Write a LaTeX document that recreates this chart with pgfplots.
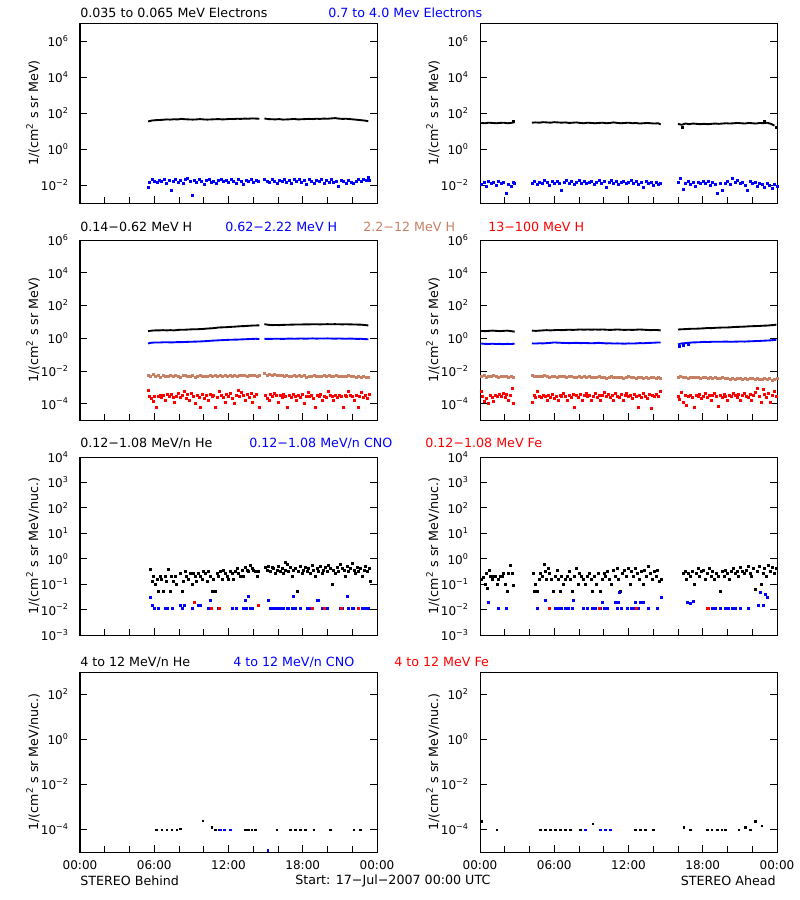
\documentclass[border=0pt]{standalone}
\usepackage{fontspec}
\setmainfont{DejaVu Sans}
\usepackage{pgfplots}
\pgfplotsset{compat=1.18}
\definecolor{hbrown}{RGB}{200,128,100}
\newcommand{\Ex}[1]{10\textsuperscript{#1}}
\pgfplotsset{
  stpanel/.style={
    scale only axis, width=222.75pt, height=135pt, anchor=north west,
    xmin=0, xmax=24,
    xtick={0,6,12,18,24}, minor xtick={2,4,8,10,14,16,20,22},
    xticklabels={}, xtick pos=left, ytick pos=both,
    major tick length=5.25pt, minor tick length=4.5pt,
    every tick/.style={black, line width=0.6pt},
    axis line style={line width=0.75pt},
    tick label style={font=\fontsize{9}{10}\selectfont},
    y tick label style={xshift=-5pt},
    x tick label style={yshift=-3pt},
    yminorticks=false,
    ylabel style={at={(axis description cs:-0.158,0.5)}, anchor=center, font=\fontsize{9.5}{11}\selectfont},
  },
  myrowA/.style={ymin=1e-3, ymax=1e7, ytick={1e-2,1,1e2,1e4,1e6},
    yticklabels={\Ex{−2},\Ex{0},\Ex{2},\Ex{4},\Ex{6}}, ylabel={1/(cm\textsuperscript{2} s sr MeV)}},
  myrowB/.style={ymin=1e-5, ymax=1e6, ytick={1e-4,1e-2,1,1e2,1e4,1e6},
    yticklabels={\Ex{−4},\Ex{−2},\Ex{0},\Ex{2},\Ex{4},\Ex{6}}, ylabel={1/(cm\textsuperscript{2} s sr MeV)}},
  myrowC/.style={height=133.5pt, ymin=1e-3, ymax=1e4, ytick={1e-3,1e-2,1e-1,1,1e1,1e2,1e3,1e4},
    yticklabels={\Ex{−3},\Ex{−2},\Ex{−1},\Ex{0},\Ex{1},\Ex{2},\Ex{3},\Ex{4}}, ylabel={1/(cm\textsuperscript{2} s sr MeV/nuc.)}},
  myrowD/.style={ymin=1e-5, ymax=1e3, ytick={1e-4,1e-2,1,1e2},
    yticklabels={\Ex{−4},\Ex{−2},\Ex{0},\Ex{2}}, ylabel={1/(cm\textsuperscript{2} s sr MeV/nuc.)},
    xticklabels={00:00,06:00,12:00,18:00,00:00}},
  mydots/.style={only marks, mark=square*, mark size=0.75pt, mark options={solid, line width=0.3pt}},
  mysdots/.style={only marks, mark=square*, mark size=0.6pt, mark options={solid, line width=0.2pt}},
  mylns/.style={no markers, line width=1.4pt, line join=round, unbounded coords=jump},
}
\begin{document}
\begin{tikzpicture}
\path[use as bounding box] (0,0) rectangle (600pt,-675pt);
\tikzset{ttl/.style={anchor=west, inner sep=0pt, font=\fontsize{9.5}{11}\selectfont}}
% ---------- titles ----------
\node[ttl] at (60pt,-9.75pt) {0.035 to 0.065 MeV Electrons};
\node[ttl, text=blue] at (246pt,-9.75pt) {0.7 to 4.0 Mev Electrons};
\node[ttl] at (60pt,-170.25pt) {0.14−0.62 MeV H};
\node[ttl, text=blue] at (168.75pt,-170.25pt) {0.62−2.22 MeV H};
\node[ttl, text=hbrown] at (272.25pt,-170.25pt) {2.2−12 MeV H};
\node[ttl, text=red] at (366pt,-170.25pt) {13−100 MeV H};
\node[ttl] at (60pt,-332.25pt) {0.12−1.08 MeV/n He};
\node[ttl, text=blue] at (186.75pt,-332.25pt) {0.12−1.08 MeV/n CNO};
\node[ttl, text=red] at (318.75pt,-332.25pt) {0.12−1.08 MeV Fe};
\node[ttl] at (60pt,-496.5pt) {4 to 12 MeV/n He};
\node[ttl, text=blue] at (174.75pt,-496.5pt) {4 to 12 MeV/n CNO};
\node[ttl, text=red] at (295.5pt,-496.5pt) {4 to 12 MeV Fe};
\node[ttl] at (60pt,-660.75pt) {STEREO Behind};
\node[ttl] at (221.25pt,-660.75pt) {Start: 17−Jul−2007 00:00 UTC};
\node[ttl, anchor=east] at (582pt,-660.75pt) {STEREO Ahead};

% ---------- Row 1 left ----------
\begin{semilogyaxis}[stpanel, myrowA, at={(60pt,-17.25pt)}]
\addplot[mylns, black] coordinates {(5.5,34)(5.8,38)(6.1,40)(6.4,41)(6.7,42)(7.0,44)(7.3,43)(7.6,45)(7.9,44)(8.2,47)(8.5,45)(8.8,44)(9.1,43)(9.4,44)(9.7,46)(10.0,44)(10.3,43)(10.6,44)(10.9,45)(11.2,46)(11.5,44)(11.8,45)(12.1,47)(12.4,46)(12.7,48)(13.0,47)(13.3,49)(13.6,48)(13.9,50)(14.2,49)(14.5,48)(14.7,nan)
(14.9,50)(15.2,46)(15.5,45)(15.8,44)(16.1,46)(16.4,43)(16.7,44)(17.0,45)(17.3,47)(17.6,44)(17.9,45)(18.2,46)(18.5,47)(18.8,46)(19.1,48)(19.4,47)(19.7,49)(20.0,48)(20.3,50)(20.6,52)(20.9,49)(21.2,47)(21.5,48)(21.8,46)(22.1,44)(22.4,42)(22.7,40)(23.0,38)(23.3,35)};
\addplot[mydots, blue] coordinates {(5.5,0.008)(5.6,0.014)(5.8,0.02)(6.0,0.017)(6.2,0.015)(6.4,0.019)(6.6,0.016)(6.8,0.021)(7.0,0.013)(7.2,0.018)(7.4,0.005)(7.5,0.016)(7.7,0.022)(7.9,0.015)(8.1,0.018)(8.3,0.012)(8.5,0.02)(8.7,0.024)(8.9,0.017)(9.1,0.0028)(9.2,0.019)(9.4,0.014)(9.6,0.021)(9.8,0.016)(10.0,0.011)(10.2,0.018)(10.4,0.02)(10.6,0.015)(10.8,0.017)(11.0,0.013)(11.2,0.019)(11.4,0.022)(11.6,0.016)(11.8,0.018)(12.0,0.014)(12.2,0.02)(12.4,0.017)(12.6,0.013)(12.8,0.021)(13.0,0.016)(13.2,0.011)(13.4,0.019)(13.6,0.017)(13.8,0.022)(14.0,0.015)(14.2,0.018)(14.4,0.016)
(14.9,0.022)(15.1,0.017)(15.3,0.014)(15.5,0.02)(15.7,0.016)(15.9,0.012)(16.1,0.019)(16.3,0.017)(16.5,0.022)(16.7,0.015)(16.9,0.018)(17.1,0.013)(17.3,0.02)(17.5,0.016)(17.7,0.021)(17.9,0.014)(18.1,0.018)(18.3,0.011)(18.5,0.02)(18.7,0.016)(18.9,0.013)(19.1,0.019)(19.3,0.017)(19.5,0.021)(19.7,0.012)(19.9,0.018)(20.1,0.015)(20.3,0.02)(20.5,0.014)(20.7,0.017)(20.9,0.009)(21.1,0.019)(21.3,0.016)(21.5,0.013)(21.7,0.018)(21.9,0.015)(22.1,0.012)(22.3,0.017)(22.5,0.02)(22.7,0.016)(22.9,0.022)(23.1,0.018)(23.3,0.028)(23.4,0.019)};
\end{semilogyaxis}

% ---------- Row 1 right ----------
\begin{semilogyaxis}[stpanel, myrowA, at={(360pt,-17.25pt)}]
\addplot[mylns, black] coordinates {(0.1,28)(0.4,27)(0.7,29)(1.0,28)(1.3,27)(1.6,28)(1.9,29)(2.2,27)(2.5,28)(2.8,31)(3.5,nan)
(4.2,29)(4.5,30)(4.8,29)(5.1,31)(5.4,30)(5.7,29)(6.0,31)(6.3,30)(6.6,29)(6.9,30)(7.2,28)(7.5,29)(7.8,30)(8.1,28)(8.4,27)(8.7,29)(9.0,28)(9.3,27)(9.6,28)(9.9,29)(10.2,27)(10.5,28)(10.8,30)(11.1,28)(11.4,27)(11.7,28)(12.0,29)(12.3,27)(12.6,28)(12.9,26)(13.2,27)(13.5,28)(13.8,27)(14.1,26)(14.4,27)(14.6,23)(15.3,nan)
(16.0,25)(16.3,22)(16.6,26)(16.9,24)(17.2,26)(17.5,25)(17.8,24)(18.1,25)(18.4,24)(18.7,25)(19.0,26)(19.3,25)(19.6,26)(19.9,27)(20.2,26)(20.5,27)(20.8,28)(21.1,27)(21.4,26)(21.7,28)(22.0,27)(22.3,26)(22.6,28)(22.9,27)(23.2,29)(23.5,25)(23.8,20)};
\addplot[mydots, black] coordinates {(16.3,17)(2.7,36)(23.0,33)(23.9,17)};
\addplot[mydots, blue] coordinates {(0.1,0.011)(0.3,0.014)(0.5,0.009)(0.7,0.016)(0.9,0.012)(1.1,0.015)(1.3,0.01)(1.5,0.017)(1.7,0.012)(1.9,0.014)(2.1,0.0034)(2.3,0.011)(2.5,0.009)(2.7,0.014)(2.8,0.012)
(4.2,0.013)(4.4,0.016)(4.6,0.011)(4.8,0.015)(5.0,0.012)(5.2,0.018)(5.4,0.014)(5.6,0.01)(5.8,0.016)(6.0,0.013)(6.2,0.017)(6.4,0.012)(6.6,0.005)(6.8,0.015)(7.0,0.019)(7.2,0.013)(7.4,0.016)(7.6,0.011)(7.8,0.015)(8.0,0.018)(8.2,0.013)(8.4,0.016)(8.6,0.012)(8.8,0.015)(9.0,0.017)(9.2,0.011)(9.4,0.014)(9.6,0.018)(9.8,0.012)(10.0,0.016)(10.2,0.008)(10.4,0.014)(10.6,0.019)(10.8,0.013)(11.0,0.016)(11.2,0.011)(11.4,0.015)(11.6,0.017)(11.8,0.012)(12.0,0.015)(12.2,0.018)(12.4,0.013)(12.6,0.016)(12.8,0.011)(13.0,0.014)(13.2,0.008)(13.4,0.017)(13.6,0.012)(13.8,0.015)(14.0,0.01)(14.2,0.014)(14.4,0.011)(14.6,0.013)
(16.0,0.015)(16.2,0.024)(16.4,0.006)(16.6,0.012)(16.8,0.016)(17.0,0.011)(17.2,0.014)(17.4,0.009)(17.6,0.015)(17.8,0.012)(18.0,0.017)(18.2,0.013)(18.4,0.016)(18.6,0.01)(18.8,0.014)(19.0,0.011)(19.2,0.0035)(19.4,0.013)(19.6,0.005)(19.8,0.012)(20.0,0.016)(20.2,0.011)(20.4,0.025)(20.6,0.014)(20.8,0.018)(21.0,0.012)(21.2,0.015)(21.4,0.01)(21.6,0.005)(21.8,0.016)(22.0,0.012)(22.2,0.014)(22.4,0.009)(22.6,0.013)(22.8,0.011)(23.0,0.008)(23.2,0.012)(23.4,0.01)(23.6,0.007)(23.8,0.011)(24.0,0.009)};
\end{semilogyaxis}

% ---------- Row 2 left ----------
\begin{semilogyaxis}[stpanel, myrowB, at={(60pt,-180pt)}]
\addplot[mylns, black] coordinates {(5.5,2.7)(5.8,2.9)(6.1,3.0)(6.4,3.0)(6.7,3.1)(7.0,3.0)(7.3,3.1)(7.6,3.0)(7.9,3.2)(8.2,3.3)(8.5,3.3)(8.8,3.4)(9.1,3.5)(9.4,3.5)(9.7,3.6)(10.0,3.7)(10.3,3.9)(10.6,4.0)(10.9,4.2)(11.2,4.5)(11.5,4.6)(11.8,4.7)(12.1,4.9)(12.4,5.0)(12.7,5.2)(13.0,5.4)(13.3,5.5)(13.6,5.7)(13.9,5.9)(14.2,6.0)(14.5,6.1)(14.7,nan)
(14.9,7.2)(15.2,6.6)(15.5,6.3)(15.8,6.4)(16.1,6.3)(16.4,6.5)(16.7,6.6)(17.0,6.7)(17.3,6.8)(17.6,6.9)(17.9,6.9)(18.2,7.0)(18.5,7.0)(18.8,7.1)(19.1,7.1)(19.4,7.0)(19.7,7.1)(20.0,7.2)(20.3,7.1)(20.6,7.2)(20.9,7.1)(21.2,7.0)(21.5,7.1)(21.8,7.0)(22.1,6.9)(22.4,6.8)(22.7,6.7)(23.0,6.4)(23.3,6.0)};
\addplot[mylns, blue] coordinates {(5.5,0.48)(5.8,0.53)(6.1,0.55)(6.4,0.54)(6.7,0.56)(7.0,0.57)(7.3,0.55)(7.6,0.56)(7.9,0.58)(8.2,0.57)(8.5,0.59)(8.8,0.6)(9.1,0.61)(9.4,0.62)(9.7,0.63)(10.0,0.65)(10.3,0.67)(10.6,0.7)(10.9,0.72)(11.2,0.74)(11.5,0.76)(11.8,0.78)(12.1,0.8)(12.4,0.81)(12.7,0.82)(13.0,0.84)(13.3,0.86)(13.6,0.88)(13.9,0.9)(14.2,0.92)(14.5,0.88)(14.7,nan)
(14.9,0.92)(15.2,0.9)(15.5,0.91)(15.8,0.93)(16.1,0.92)(16.4,0.9)(16.7,0.93)(17.0,0.95)(17.3,0.92)(17.6,0.94)(17.9,0.96)(18.2,0.93)(18.5,0.95)(18.8,0.97)(19.1,0.94)(19.4,0.96)(19.7,0.95)(20.0,0.97)(20.3,0.95)(20.6,0.93)(20.9,0.96)(21.2,0.94)(21.5,0.92)(21.8,0.95)(22.1,0.93)(22.4,0.9)(22.7,0.92)(23.0,0.88)(23.3,0.86)};
\addplot[mydots, hbrown] coordinates {(5.5,0.0055)(5.7,0.0045)(5.9,0.006)(6.1,0.0048)(6.3,0.0052)(6.5,0.0042)(6.7,0.0058)(6.9,0.005)(7.1,0.0045)(7.3,0.0053)(7.5,0.0047)(7.7,0.0055)(7.9,0.0049)(8.1,0.0044)(8.3,0.0052)(8.5,0.0057)(8.7,0.0046)(8.9,0.005)(9.1,0.0054)(9.3,0.0043)(9.5,0.005)(9.7,0.0056)(9.9,0.0047)(10.1,0.0051)(10.3,0.0045)(10.5,0.0055)(10.7,0.0049)(10.9,0.0052)(11.1,0.0046)(11.3,0.0058)(11.5,0.005)(11.7,0.0053)(11.9,0.0047)(12.1,0.0055)(12.3,0.0051)(12.5,0.0056)(12.7,0.0049)(12.9,0.0054)(13.1,0.0052)(13.3,0.0058)(13.5,0.005)(13.7,0.0055)(13.9,0.0053)(14.1,0.0057)(14.3,0.0051)(14.5,0.0054)
(14.9,0.0068)(15.1,0.0058)(15.3,0.0062)(15.5,0.0055)(15.7,0.006)(15.9,0.0052)(16.1,0.0057)(16.3,0.0053)(16.5,0.0049)(16.7,0.0055)(16.9,0.0051)(17.1,0.0046)(17.3,0.0053)(17.5,0.0049)(17.7,0.0055)(17.9,0.0047)(18.1,0.0052)(18.3,0.0044)(18.5,0.005)(18.7,0.0047)(18.9,0.0053)(19.1,0.0049)(19.3,0.0045)(19.5,0.0051)(19.7,0.0055)(19.9,0.0048)(20.1,0.0052)(20.3,0.0046)(20.5,0.005)(20.7,0.0054)(20.9,0.0047)(21.1,0.0051)(21.3,0.0045)(21.5,0.0049)(21.7,0.0053)(21.9,0.0046)(22.1,0.005)(22.3,0.0044)(22.5,0.0048)(22.7,0.0042)(22.9,0.0046)(23.1,0.004)(23.3,0.0044)};
\addplot[mydots, red] coordinates {(5.5,7e-4)(5.6,3e-4)(5.75,2.2e-4)(5.9,1.5e-4)(6.0,3e-4)(6.15,6e-5)(6.3,2.8e-4)(6.45,3.5e-4)(6.6,2.5e-4)(6.75,3.2e-4)(6.9,1.6e-4)(7.05,4e-4)(7.2,2.7e-4)(7.35,3.6e-4)(7.5,2.4e-4)(7.65,1.2e-4)(7.8,3e-4)(7.95,4.3e-4)(8.1,2.6e-4)(8.25,3.4e-4)(8.4,5.5e-4)(8.55,2.2e-4)(8.7,3.8e-4)(8.85,1.6e-4)(9.0,4.5e-4)(9.15,2.9e-4)(9.3,1e-4)(9.45,3.3e-4)(9.6,2.5e-4)(9.75,6e-5)(9.9,3.6e-4)(10.05,2.2e-4)(10.2,3.1e-4)(10.35,1.7e-4)(10.5,4e-4)(10.65,2.8e-4)(10.8,3.5e-4)(10.95,6e-5)(11.1,2.4e-4)(11.25,5.8e-4)(11.4,3.2e-4)(11.55,2.6e-4)(11.7,1.3e-4)(11.85,3.6e-4)(12.0,2.9e-4)(12.15,4.4e-4)(12.3,2.3e-4)(12.45,1e-4)(12.6,3.3e-4)(12.75,6.5e-4)(12.9,2.7e-4)(13.05,4.8e-4)(13.2,3.3e-4)(13.35,1.6e-4)(13.5,3.8e-4)(13.65,2.5e-4)(13.8,4.6e-4)(13.95,1.2e-4)(14.1,3e-4)(14.25,3.6e-4)(14.45,6e-5)
(14.95,3.2e-4)(15.1,2.3e-4)(15.25,1.6e-4)(15.4,3.8e-4)(15.55,2.7e-4)(15.7,4.5e-4)(15.85,3.1e-4)(16.0,1.2e-4)(16.15,3.5e-4)(16.3,2.4e-4)(16.45,4e-4)(16.6,3e-4)(16.75,6e-5)(16.9,3.3e-4)(17.05,2.6e-4)(17.2,3.9e-4)(17.35,2.8e-4)(17.5,1.6e-4)(17.65,3.2e-4)(17.8,2.5e-4)(17.95,3.7e-4)(18.1,1e-4)(18.25,3e-4)(18.4,5.2e-4)(18.55,2.7e-4)(18.7,3.5e-4)(18.85,2.3e-4)(19.0,6e-5)(19.15,3.2e-4)(19.3,2.8e-4)(19.45,3.8e-4)(19.6,1.7e-4)(19.75,3e-4)(19.9,2.6e-4)(20.05,5.5e-4)(20.2,3.3e-4)(20.35,2.9e-4)(20.5,1.6e-4)(20.65,3.1e-4)(20.8,2.5e-4)(20.95,3.4e-4)(21.1,3e-4)(21.25,6e-5)(21.4,3.2e-4)(21.55,2.7e-4)(21.7,5.4e-4)(21.85,3.1e-4)(22.0,2.9e-4)(22.15,1.6e-4)(22.3,3.3e-4)(22.45,6e-5)(22.6,3e-4)(22.75,5e-4)(22.9,2.6e-4)(23.05,3.4e-4)(23.2,2.2e-4)(23.35,3.6e-4)};
\end{semilogyaxis}

% ---------- Row 2 right ----------
\begin{semilogyaxis}[stpanel, myrowB, at={(360pt,-180pt)}]
\addplot[mylns, black] coordinates {(0.1,2.8)(0.4,2.7)(0.7,2.8)(1.0,2.9)(1.3,2.8)(1.6,2.7)(1.9,2.8)(2.2,2.9)(2.5,2.7)(2.8,2.5)(3.5,nan)
(4.2,2.9)(4.5,2.8)(4.8,2.9)(5.1,3.0)(5.4,3.1)(5.7,3.0)(6.0,3.1)(6.3,3.2)(6.6,3.1)(6.9,3.2)(7.2,3.3)(7.5,3.2)(7.8,3.3)(8.1,3.4)(8.4,3.3)(8.7,3.4)(9.0,3.3)(9.3,3.4)(9.6,3.3)(9.9,3.4)(10.2,3.3)(10.5,3.2)(10.8,3.3)(11.1,3.4)(11.4,3.3)(11.7,3.2)(12.0,3.3)(12.3,3.2)(12.6,3.3)(12.9,3.4)(13.2,3.3)(13.5,3.2)(13.8,3.1)(14.1,3.2)(14.4,3.1)(14.6,3.0)(15.3,nan)
(16.0,3.4)(16.3,3.5)(16.6,3.6)(16.9,3.7)(17.2,3.8)(17.5,3.8)(17.8,3.9)(18.1,4.0)(18.4,4.2)(18.7,4.1)(19.0,4.3)(19.3,4.4)(19.6,4.5)(19.9,4.5)(20.2,4.6)(20.5,4.8)(20.8,4.9)(21.1,5.0)(21.4,5.1)(21.7,5.3)(22.0,5.4)(22.3,5.5)(22.6,5.6)(22.9,5.8)(23.2,5.9)(23.5,6.2)(23.8,6.4)(23.95,6.9)};
\addplot[mylns, blue] coordinates {(0.1,0.47)(0.4,0.45)(0.7,0.44)(1.0,0.46)(1.3,0.44)(1.6,0.45)(1.9,0.43)(2.2,0.45)(2.5,0.44)(2.8,0.46)(3.5,nan)
(4.2,0.48)(4.5,0.47)(4.8,0.49)(5.1,0.48)(5.4,0.5)(5.7,0.52)(6.0,0.55)(6.3,0.53)(6.6,0.52)(6.9,0.51)(7.2,0.5)(7.5,0.51)(7.8,0.52)(8.1,0.5)(8.4,0.51)(8.7,0.5)(9.0,0.49)(9.3,0.5)(9.6,0.52)(9.9,0.5)(10.2,0.48)(10.5,0.49)(10.8,0.47)(11.1,0.48)(11.4,0.47)(11.7,0.46)(12.0,0.48)(12.3,0.47)(12.6,0.48)(12.9,0.5)(13.2,0.49)(13.5,0.51)(13.8,0.52)(14.1,0.53)(14.4,0.55)(14.6,0.54)(15.3,nan)
(16.0,0.42)(16.3,0.48)(16.6,0.5)(16.9,0.53)(17.2,0.55)(17.5,0.56)(17.8,0.57)(18.1,0.6)(18.4,0.58)(18.7,0.6)(19.0,0.61)(19.3,0.6)(19.6,0.61)(19.9,0.62)(20.2,0.6)(20.5,0.61)(20.8,0.62)(21.1,0.63)(21.4,0.62)(21.7,0.64)(22.0,0.65)(22.3,0.67)(22.6,0.68)(22.9,0.7)(23.2,0.72)(23.5,0.74)(23.8,0.78)(23.95,0.8)};
\addplot[mydots, blue] coordinates {(16.1,0.33)(16.4,0.38)(16.8,0.42)};
\addplot[mydots, hbrown] coordinates {(0.1,0.0048)(0.3,0.0055)(0.5,0.0042)(0.7,0.005)(0.9,0.0045)(1.1,0.0052)(1.3,0.0047)(1.5,0.0044)(1.7,0.0051)(1.9,0.0046)(2.1,0.0049)(2.3,0.0043)(2.5,0.0047)(2.7,0.0042)
(4.2,0.0052)(4.4,0.0048)(4.6,0.005)(4.8,0.0045)(5.0,0.0049)(5.2,0.0053)(5.4,0.0047)(5.6,0.0044)(5.8,0.005)(6.0,0.0046)(6.2,0.0042)(6.4,0.0048)(6.6,0.0051)(6.8,0.0045)(7.0,0.0043)(7.2,0.0047)(7.4,0.005)(7.6,0.0044)(7.8,0.0041)(8.0,0.0046)(8.2,0.0043)(8.4,0.0048)(8.6,0.0042)(8.8,0.0045)(9.0,0.0039)(9.2,0.0044)(9.4,0.0041)(9.6,0.0046)(9.8,0.004)(10.0,0.0043)(10.2,0.0038)(10.4,0.0042)(10.6,0.0046)(10.8,0.004)(11.0,0.0044)(11.2,0.0039)(11.4,0.0042)(11.6,0.0037)(11.8,0.0041)(12.0,0.0045)(12.2,0.0039)(12.4,0.0043)(12.6,0.0038)(12.8,0.004)(13.0,0.0044)(13.2,0.0038)(13.4,0.0042)(13.6,0.0036)(13.8,0.004)(14.0,0.0043)(14.2,0.0037)(14.4,0.004)(14.6,0.0035)
(16.0,0.0042)(16.2,0.0045)(16.4,0.004)(16.6,0.0043)(16.8,0.0038)(17.0,0.0041)(17.2,0.0044)(17.4,0.0039)(17.6,0.0042)(17.8,0.0037)(18.0,0.004)(18.2,0.0043)(18.4,0.0038)(18.6,0.0041)(18.8,0.0036)(19.0,0.0039)(19.2,0.0034)(19.4,0.0037)(19.6,0.004)(19.8,0.0035)(20.0,0.0038)(20.2,0.0033)(20.4,0.0036)(20.6,0.0031)(20.8,0.0035)(21.0,0.0038)(21.2,0.0033)(21.4,0.0036)(21.6,0.003)(21.8,0.0034)(22.0,0.0037)(22.2,0.0032)(22.4,0.0035)(22.6,0.003)(22.8,0.0033)(23.0,0.0036)(23.2,0.0031)(23.4,0.0034)(23.6,0.0029)(23.8,0.0032)(24.0,0.0034)};
\addplot[mydots, red] coordinates {(0.1,6e-4)(0.2,3e-4)(0.35,1.5e-4)(0.5,2.2e-4)(0.65,1e-4)(0.8,3.5e-4)(0.95,2.5e-4)(1.1,1.4e-4)(1.25,3.2e-4)(1.4,2.7e-4)(1.55,4e-4)(1.7,3e-4)(1.85,4.5e-4)(2.0,2.4e-4)(2.15,3.6e-4)(2.3,1.6e-4)(2.45,3.1e-4)(2.6,9e-4)(2.7,1e-4)
(4.2,1.3e-4)(4.35,3.3e-4)(4.5,2.6e-4)(4.65,5.5e-4)(4.8,3e-4)(4.95,2.4e-4)(5.1,3.5e-4)(5.25,2.8e-4)(5.4,1.6e-4)(5.55,3.2e-4)(5.7,2.6e-4)(5.85,3.7e-4)(6.0,2.2e-4)(6.15,3e-4)(6.3,1.6e-4)(6.45,3.4e-4)(6.6,2.7e-4)(6.75,4.2e-4)(6.9,3e-4)(7.05,1.6e-4)(7.2,3.3e-4)(7.35,2.5e-4)(7.5,3.8e-4)(7.65,6e-5)(7.8,3.2e-4)(7.95,2.6e-4)(8.1,3.9e-4)(8.25,1.6e-4)(8.4,3.1e-4)(8.55,4.5e-4)(8.7,2.7e-4)(8.85,3.4e-4)(9.0,1.6e-4)(9.15,3e-4)(9.3,4.2e-4)(9.45,2.5e-4)(9.6,3.5e-4)(9.75,1.6e-4)(9.9,3.2e-4)(10.05,5e-4)(10.2,2.8e-4)(10.35,3.6e-4)(10.5,2.4e-4)(10.65,3.1e-4)(10.8,1.6e-4)(10.95,4.3e-4)(11.1,3e-4)(11.25,2.5e-4)(11.4,3.7e-4)(11.55,1.6e-4)(11.7,3.2e-4)(11.85,4.6e-4)(12.0,2.7e-4)(12.15,3.4e-4)(12.3,2.2e-4)(12.45,3.9e-4)(12.6,3e-4)(12.75,6e-5)(12.9,3.3e-4)(13.05,2.6e-4)(13.2,4.1e-4)(13.35,3e-4)(13.5,2.3e-4)(13.65,3.6e-4)(13.8,5e-5)(13.95,3.2e-4)(14.1,2.7e-4)(14.25,3.8e-4)(14.4,3e-4)(14.55,5.5e-4)
(16.0,3e-4)(16.1,1.8e-4)(16.25,5e-4)(16.4,1.2e-4)(16.55,3.3e-4)(16.7,8e-5)(16.85,2.7e-4)(17.0,3.5e-4)(17.15,2.5e-4)(17.3,6e-5)(17.45,3.2e-4)(17.6,2.8e-4)(17.75,3.6e-4)(17.9,2.3e-4)(18.05,3e-4)(18.2,4.4e-4)(18.35,2.6e-4)(18.5,3.4e-4)(18.65,1.6e-4)(18.8,3.1e-4)(18.95,4.2e-4)(19.1,2.7e-4)(19.25,7e-5)(19.4,3.3e-4)(19.55,2.5e-4)(19.7,3.8e-4)(19.85,3e-4)(20.0,1.6e-4)(20.15,3.5e-4)(20.3,2.8e-4)(20.45,4.2e-4)(20.6,3.1e-4)(20.75,2.4e-4)(20.9,3.6e-4)(21.05,1.6e-4)(21.2,3.3e-4)(21.35,4.5e-4)(21.5,3e-4)(21.65,2.6e-4)(21.8,3.9e-4)(21.95,1.6e-4)(22.1,3.4e-4)(22.25,4.8e-4)(22.4,9e-4)(22.55,3e-4)(22.7,1.2e-4)(22.85,8e-4)(23.0,3.6e-4)(23.15,2.5e-4)(23.3,4.4e-4)(23.45,1.3e-4)(23.6,3.3e-4)(23.75,5.5e-4)(23.9,2.8e-4)};
\end{semilogyaxis}

% ---------- Row 3 left ----------
\begin{semilogyaxis}[stpanel, myrowC, at={(60pt,-342.75pt)}]
\addplot[mydots, black] coordinates {(5.66,0.38)(5.8,0.13)(5.93,0.21)(6.06,0.1)(6.2,0.16)(6.33,0.052)(6.47,0.21)(6.6,0.16)(6.74,0.052)(6.87,0.21)(7.0,0.13)(7.14,0.38)(7.28,0.052)(7.41,0.21)(7.55,0.13)(7.68,0.21)(7.81,0.1)(8.08,0.26)(8.22,0.052)(8.3,0.13)(8.49,0.31)(8.62,0.21)(8.76,0.16)(8.89,0.26)(9.03,0.1)(9.16,0.26)(9.3,0.21)(9.43,0.13)(9.57,0.26)(9.7,0.21)(9.84,0.16)(9.97,0.31)(10.11,0.26)(10.24,0.13)(10.38,0.31)(10.51,0.21)(10.65,0.052)(10.78,0.16)(10.92,0.052)(11.05,0.26)(11.19,0.21)(11.32,0.31)(11.46,0.16)(11.59,0.36)(11.73,0.26)(11.86,0.21)(12.0,0.16)(12.13,0.31)(12.27,0.26)(12.4,0.16)(12.54,0.31)(12.67,0.42)(12.81,0.26)(12.94,0.21)(13.08,0.36)(13.21,0.21)(13.35,0.47)(13.48,0.36)(13.62,0.31)(13.75,0.57)(13.89,0.42)(14.02,0.36)(14.16,0.31)(14.29,0.21)(14.42,0.31)
(14.96,0.47)(15.1,0.36)(15.23,0.52)(15.37,0.31)(15.5,0.47)(15.64,0.42)(15.77,0.26)(15.91,0.36)(16.04,0.52)(16.18,0.31)(16.31,0.42)(16.45,0.26)(16.6,0.73)(16.58,0.36)(16.72,0.62)(16.85,0.31)(16.99,0.47)(17.12,0.21)(17.26,0.36)(17.39,0.42)(17.53,0.052)(17.66,0.31)(17.8,0.52)(17.93,0.26)(18.07,0.36)(18.2,0.47)(18.34,0.31)(18.47,0.42)(18.61,0.26)(18.74,0.57)(18.88,0.36)(19.01,0.21)(19.15,0.42)(19.28,0.31)(19.42,0.52)(19.55,0.26)(19.69,0.36)(19.82,0.47)(19.96,0.31)(20.09,0.57)(20.23,0.42)(20.36,0.1)(20.5,0.36)(20.63,0.26)(20.77,0.47)(20.9,0.31)(21.04,0.62)(21.17,0.42)(21.31,0.36)(21.44,0.21)(21.58,0.52)(21.71,0.31)(21.85,0.42)(21.98,0.68)(22.12,0.36)(22.25,0.26)(22.39,0.47)(22.52,0.31)(22.66,0.42)(22.79,0.21)(22.93,0.36)(23.06,0.52)(23.2,0.31)(23.33,0.42)(23.45,0.13)};
\addplot[mydots, blue] coordinates {(5.66,0.03)(5.87,0.015)(5.98,0.011)(6.33,0.011)(6.87,0.011)(7.01,0.011)(7.49,0.011)(8.08,0.015)(8.22,0.011)(8.43,0.015)(9.03,0.011)(9.57,0.015)(9.7,0.015)(10.38,0.011)(10.51,0.023)(11.19,0.011)(12.26,0.011)(12.61,0.011)(13.2,0.011)(13.34,0.023)(13.42,0.011)(13.61,0.035)(13.74,0.011)(13.88,0.011)(15.23,0.023)(15.36,0.011)(15.55,0.011)(15.77,0.011)(15.95,0.011)(16.17,0.011)(16.44,0.011)(16.71,0.011)(16.84,0.011)(17.11,0.011)(17.25,0.035)(17.38,0.011)(17.79,0.011)(18.33,0.011)(18.46,0.011)(18.65,0.011)(19.13,0.023)(19.27,0.023)(19.54,0.011)(19.99,0.011)(21.02,0.011)(21.15,0.011)(21.56,0.035)(21.69,0.011)(21.96,0.011)(22.1,0.011)(22.77,0.011)(22.96,0.011)(23.18,0.011)(23.31,0.011)};
\addplot[mydots, red] coordinates {(9.24,0.02)(10.64,0.011)(11.24,0.011)(14.36,0.015)(18.78,0.011)(19.75,0.011)(21.08,0.011)(22.5,0.011)};
\end{semilogyaxis}

% ---------- Row 3 right ----------
\begin{semilogyaxis}[stpanel, myrowC, at={(360pt,-342.75pt)}]
\addplot[mydots, black] coordinates {(0.13,0.16)(0.25,0.19)(0.38,0.1)(0.5,0.26)(0.6,0.07)(0.72,0.37)(0.85,0.2)(0.98,0.15)(1.1,0.21)(1.23,0.2)(1.36,0.1)(1.5,0.16)(1.63,0.21)(1.76,0.2)(1.9,0.26)(2.03,0.1)(2.17,0.052)(2.3,0.26)(2.44,0.55)(2.57,0.26)(2.7,0.09)
(4.3,0.26)(4.4,0.052)(4.5,0.1)(4.6,0.052)(4.75,0.16)(4.9,0.26)(5.0,0.21)(5.15,0.6)(5.25,0.31)(5.35,0.16)(5.5,0.42)(5.6,0.26)(5.75,0.16)(5.9,0.052)(6.05,0.21)(6.2,0.36)(6.3,0.16)(6.45,0.052)(6.6,0.21)(6.75,0.1)(6.9,0.16)(7.05,0.21)(7.2,0.31)(7.3,0.16)(7.45,0.052)(7.6,0.21)(7.75,0.42)(7.9,0.1)(8.05,0.26)(8.2,0.21)(8.35,0.16)(8.5,0.1)(8.65,0.21)(8.8,0.26)(8.95,0.16)(9.1,0.052)(9.25,0.21)(9.4,0.1)(9.55,0.26)(9.7,0.052)(9.85,0.16)(10.0,0.26)(10.15,0.21)(10.3,0.31)(10.45,0.16)(10.6,0.1)(10.75,0.36)(10.9,0.21)(11.05,0.42)(11.2,0.16)(11.35,0.052)(11.5,0.26)(11.65,0.36)(11.8,0.21)(11.95,0.42)(12.1,0.1)(12.25,0.31)(12.4,0.21)(12.55,0.42)(12.7,0.26)(12.85,0.16)(13.0,0.31)(13.15,0.1)(13.3,0.36)(13.45,0.21)(13.6,0.52)(13.75,0.26)(13.9,0.16)(14.05,0.31)(14.2,0.21)(14.35,0.36)(14.5,0.13)(14.65,0.16)
(16.4,0.26)(16.55,0.31)(16.7,0.16)(16.85,0.26)(17.0,0.21)(17.15,0.31)(17.3,0.1)(17.45,0.26)(17.6,0.42)(17.75,0.21)(17.9,0.31)(18.05,0.36)(18.2,0.16)(18.35,0.26)(18.5,0.42)(18.65,0.21)(18.8,0.31)(18.95,0.16)(19.1,0.26)(19.25,0.21)(19.4,0.052)(19.55,0.31)(19.7,0.21)(19.85,0.36)(20.0,0.26)(20.15,0.16)(20.3,0.31)(20.45,0.42)(20.6,0.26)(20.75,0.31)(20.9,0.21)(21.05,0.47)(21.2,0.31)(21.35,0.26)(21.5,0.36)(21.65,0.52)(21.8,0.26)(21.95,0.21)(22.1,0.42)(22.25,0.062)(22.4,0.31)(22.55,0.52)(22.7,0.1)(22.85,0.26)(23.0,0.42)(23.15,0.21)(23.3,0.57)(23.45,0.31)(23.6,0.47)(23.75,0.26)(23.9,0.42)};
\addplot[mydots, blue] coordinates {(0.67,0.02)(1.48,0.0115)(2.1,0.0115)(4.66,0.0115)(5.26,0.023)(6.07,0.0115)(6.33,0.0115)(6.6,0.0115)(6.87,0.0115)(7.14,0.0115)(7.41,0.0115)(7.55,0.023)(8.36,0.0115)(8.63,0.0115)(9.03,0.0115)(9.3,0.0115)(9.7,0.0115)(9.84,0.02)(10.03,0.0115)(10.24,0.0115)(10.92,0.02)(11.05,0.0115)(11.19,0.02)(11.27,0.049)(11.45,0.0115)(11.86,0.0115)(12.18,0.0115)(12.4,0.0115)(12.53,0.02)(12.8,0.0115)(12.94,0.02)(13.21,0.02)(13.61,0.0115)(14.28,0.0115)(14.63,0.03)(16.71,0.019)(16.98,0.018)(17.25,0.021)(18.46,0.0115)(18.73,0.0115)(19.0,0.0115)(19.4,0.0115)(19.81,0.0115)(20.08,0.0115)(20.35,0.0115)(20.62,0.0115)(21.02,0.0115)(21.7,0.0115)(22.5,0.015)(22.64,0.049)(22.91,0.015)(23.04,0.04)(23.18,0.03)};
\addplot[mydots, red] coordinates {(5.58,0.0115)(9.65,0.0115)(12.64,0.0115)(18.33,0.0115)(18.46,0.0115)};
\end{semilogyaxis}

% ---------- Row 4 left ----------
\begin{semilogyaxis}[stpanel, myrowD, at={(60pt,-504pt)}]
\addplot[mysdots, black] coordinates {(6.15,1e-4)(6.6,1e-4)(7.01,1e-4)(7.41,1e-4)(7.82,1e-4)(8.09,1.1e-4)(9.92,2.5e-4)(10.65,1.3e-4)(10.92,1e-4)(11.19,1e-4)(13.34,1e-4)(13.61,1e-4)(13.88,1e-4)(14.15,1e-4)(15.9,1e-4)(16.98,1e-4)(17.38,1e-4)(17.79,1e-4)(18.19,1e-4)(18.87,1e-4)(20.21,1e-4)(22.1,1e-4)(22.64,1e-4)};
\addplot[mysdots, blue] coordinates {(11.32,1e-4)(11.64,1e-4)(12.13,1e-4)(15.17,1.2e-5)};
\end{semilogyaxis}

% ---------- Row 4 right ----------
\begin{semilogyaxis}[stpanel, myrowD, at={(360pt,-504pt)}]
\addplot[mysdots, black] coordinates {(0.14,2.3e-4)(1.35,1e-4)(4.85,1e-4)(5.26,1e-4)(5.66,1e-4)(6.07,1e-4)(6.47,1e-4)(6.87,1e-4)(7.28,1e-4)(8.09,1e-4)(9.11,1.8e-4)(12.53,1e-4)(12.94,1e-4)(13.34,1e-4)(14.01,1e-4)(16.44,1.3e-4)(16.98,1e-4)(18.33,1e-4)(18.73,1e-4)(19.14,1e-4)(19.54,1e-4)(19.81,1e-4)(20.89,1e-4)(21.43,1.3e-4)(21.83,1e-4)(22.24,2.3e-4)(22.77,1.5e-4)};
\addplot[mysdots, blue] coordinates {(8.49,1e-4)(9.7,1e-4)(10.11,1e-4)(10.51,1e-4)};
\end{semilogyaxis}
\end{tikzpicture}
\end{document}
